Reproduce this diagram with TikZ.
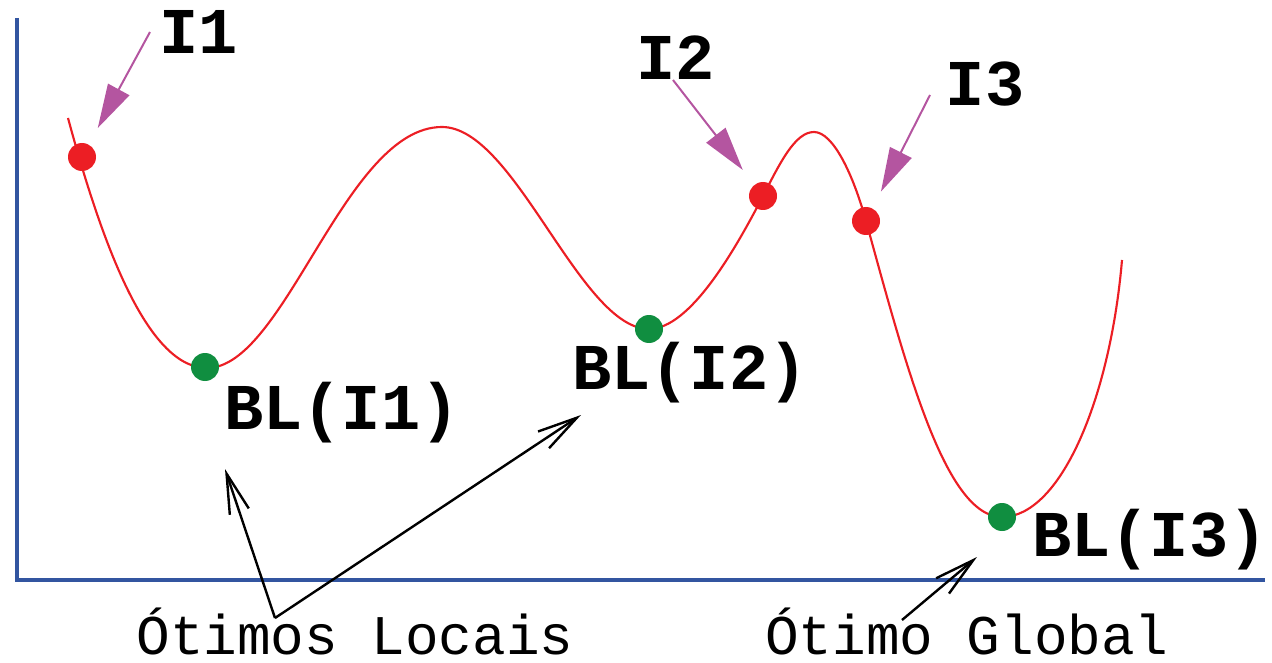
\documentclass[tikz,border=0pt]{standalone}
\usepackage{fontspec}
\setmonofont{Liberation Mono}
\usetikzlibrary{arrows.meta}
\definecolor{eixo}{RGB}{50,85,160}
\definecolor{vermelho}{RGB}{236,30,36}
\definecolor{verde}{RGB}{16,142,64}
\definecolor{magenta}{RGB}{180,85,160}

\begin{document}
\begin{tikzpicture}[x=0.75pt, y=-0.75pt, >={Straight Barb[length=30pt, width=15pt]}]
    \useasboundingbox (0,0) rectangle (1272,663);
    \tikzset{ponto/.style={circle, inner sep=0pt, minimum size=21pt},
             rotulo/.style={font=\ttfamily\bfseries\fontsize{49}{49}\selectfont, inner sep=0pt, anchor=base},
             texto/.style={font=\ttfamily\fontsize{42}{42}\selectfont, inner sep=0pt, anchor=base},
             seta/.style={magenta, line width=1.5pt, -{Triangle[length=33pt, width=18pt]}, shorten >=14pt},
             otimo/.style={black, line width=1.8pt, ->}}
    % Eixos
    \draw[eixo, line width=3.5pt] (17,18) -- (17,580) -- (1265,580);

    % Curva
    \draw[vermelho, line width=1.6pt] (68,118) .. controls (105,255) and (150,368) .. (207,368)
        .. controls (285,368) and (345,127) .. (442,127)
        .. controls (515,127) and (580,329) .. (649,329)
        .. controls (690,329) and (735,250) .. (763,196)
        .. controls (780,163) and (795,132) .. (814,132)
        .. controls (833,132) and (853,174) .. (866,221)
        .. controls (906,366) and (945,517) .. (1002,517)
        .. controls (1060,517) and (1110,400) .. (1122,260);

    % Pontos iniciais e buscas locais
    \foreach \nome/\x/\y in {I1/82/157, I2/763/196, I3/866/221}
        \node[ponto, fill=vermelho] (\nome) at (\x,\y) {};
    \foreach \nome/\x/\y in {B1/205/367, B2/649/329, B3/1002/517}
        \node[ponto, fill=verde] (\nome) at (\x,\y) {};

    % Rotulos
    \node[rotulo] (tI1) at (199,54) {I1};
    \node[rotulo] (tI2) at (676,80) {I2};
    \node[rotulo] (tI3) at (985,106) {I3};
    \node[rotulo] (tB1) at (342,429) {BL(I1)};
    \node[rotulo] (tB2) at (690,389) {BL(I2)};
    \node[rotulo] (tB3) at (1150,556) {BL(I3)};

    % Setas dos pontos iniciais
    \coordinate (s1) at (150,32);
    \coordinate (s2) at (673,80);
    \coordinate (s3) at (930,95);
    \draw[seta] (s1) -- (I1);
    \draw[seta] (s2) -- (I2);
    \draw[seta] (s3) -- (I3);

    % Otimos
    \node[texto] (locais) at (355,654) {Ótimos Locais};
    \node[texto] (global) at (967,654) {Ótimo Global};
    \coordinate (l0) at (275,618);
    \coordinate (l1) at (225,469);
    \coordinate (l2) at (581,415);
    \coordinate (g0) at (902,620);
    \coordinate (g1) at (977,557);
    \draw[otimo] (l0) -- (l1);
    \draw[otimo] (l0) -- (l2);
    \draw[otimo] (g0) -- (g1);
\end{tikzpicture}
\end{document}
